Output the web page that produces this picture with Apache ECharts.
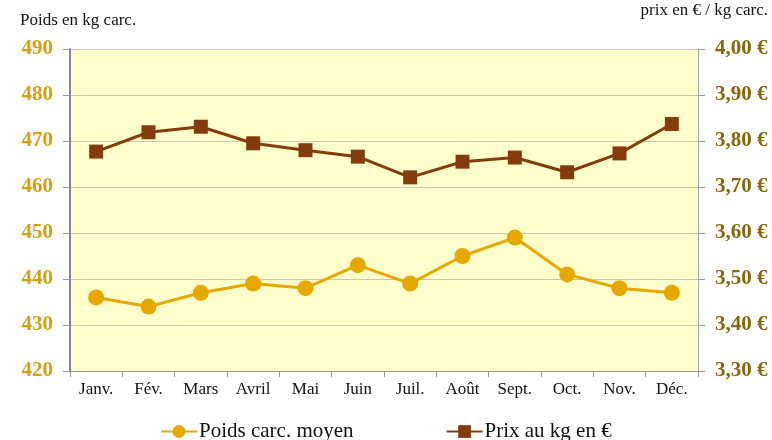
<!DOCTYPE html>
<html>
<head>
<meta charset="utf-8">
<script src="https://cdn.jsdelivr.net/npm/echarts@6/dist/echarts.min.js"></script>
<style>
  html, body { margin: 0; padding: 0; background: #fff; }
  #chart { width: 772px; height: 440px; }
</style>
</head>
<body>
<div id="chart"></div>
<script>
const months = ['Janv.', 'Fév.', 'Mars', 'Avril', 'Mai', 'Juin', 'Juil.', 'Août', 'Sept.', 'Oct.', 'Nov.', 'Déc.']
const poids = [436, 434, 437, 439, 438, 443, 439, 445, 449, 441, 438, 437]
const prix = [3.777, 3.819, 3.831, 3.795, 3.780, 3.766, 3.721, 3.755, 3.764, 3.732, 3.773, 3.837]

const serif = '"Liberation Serif", "DejaVu Serif", serif'
const chart = echarts.init(document.getElementById('chart'))

chart.setOption({
  animation: false,
  textStyle: { fontFamily: serif },
  graphic: [
    { type: 'text', left: 20, top: 12, style: { text: 'Poids en kg carc.', font: '17px ' + serif, fill: '#111' } },
    { type: 'text', right: 4, top: 2, style: { text: 'prix en € / kg carc.', font: '17px ' + serif, fill: '#111' } }
  ],
  grid: { left: 70, right: 74, top: 49, bottom: 69, show: true, backgroundColor: '#ffffcc', borderWidth: 0 },
  legend: {
    top: 421,
    left: 160,
    padding: 0,
    itemWidth: 36,
    itemHeight: 16,
    itemGap: 92,
    textStyle: { fontFamily: serif, fontSize: 21, color: '#111', padding: [0, 0, 0, -3] },
    data: ['Poids carc. moyen', 'Prix au kg en €']
  },
  xAxis: {
    type: 'category',
    data: months,
    boundaryGap: true,
    axisLine: { lineStyle: { color: '#999', width: 1 } },
    axisTick: { show: true, length: 6, lineStyle: { color: '#999' } },
    axisLabel: { color: '#111', fontSize: 17, fontFamily: serif, margin: 10 }
  },
  yAxis: [
    {
      type: 'value', min: 420, max: 490, interval: 10,
      axisLine: { show: true, lineStyle: { color: '#8a80a0', width: 2 } },
      axisTick: { show: true, length: 7, lineStyle: { color: '#999' } },
      axisLabel: { color: '#d4a010', fontSize: 21, fontWeight: 'bold', fontFamily: serif, margin: 17 },
      splitLine: { lineStyle: { color: '#c8c8b0', width: 1 } }
    },
    {
      type: 'value', min: 3.3, max: 4.0, interval: 0.1,
      axisLine: { show: true, lineStyle: { color: '#a8a0b8', width: 1 } },
      axisTick: { show: true, length: 7, lineStyle: { color: '#999' } },
      axisLabel: {
        color: '#8b6508', fontSize: 21, fontWeight: 'bold', fontFamily: serif, margin: 17,
        formatter: v => v.toFixed(2).replace('.', ',') + ' €'
      },
      splitLine: { show: false }
    }
  ],
  series: [
    {
      name: 'Poids carc. moyen',
      type: 'line',
      yAxisIndex: 0,
      data: poids,
      symbol: 'circle',
      symbolSize: 16,
      lineStyle: { color: '#e6a800', width: 3 },
      itemStyle: { color: '#e6a800' }
    },
    {
      name: 'Prix au kg en €',
      type: 'line',
      yAxisIndex: 1,
      data: prix,
      symbol: 'rect',
      symbolSize: 14,
      lineStyle: { color: '#843c0c', width: 3 },
      itemStyle: { color: '#843c0c' }
    }
  ]
})
</script>
</body>
</html>
